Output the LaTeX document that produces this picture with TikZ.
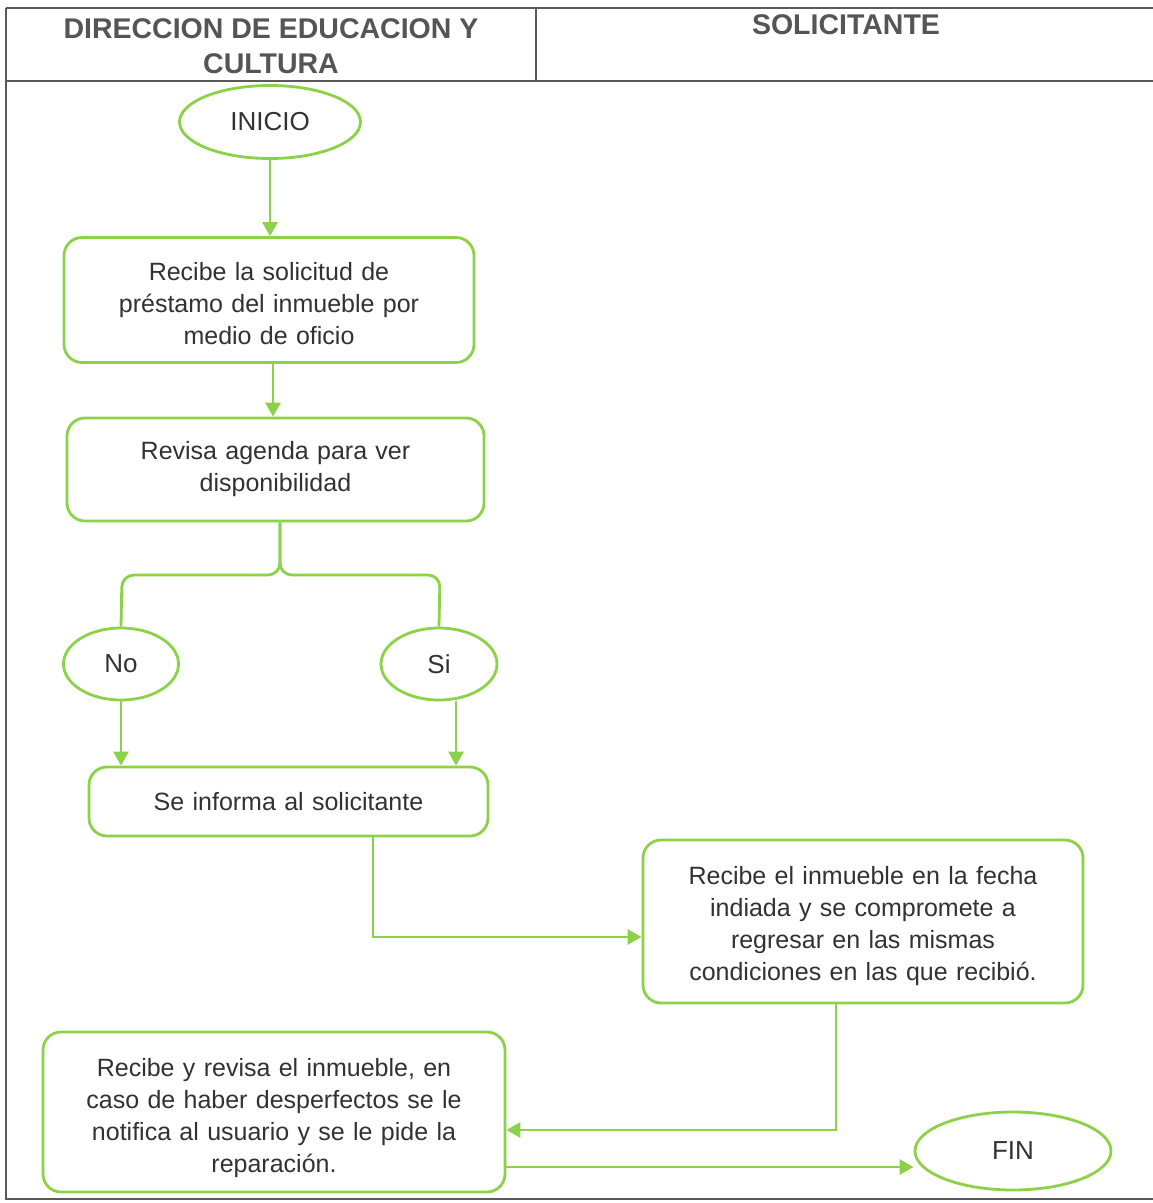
\documentclass[tikz,border=0pt]{standalone}
\usepackage{fontspec}
\setmainfont{Liberation Sans}
\usetikzlibrary{arrows.meta,shapes.geometric}
\definecolor{flowgreen}{RGB}{140,210,72}
\definecolor{txtgray}{RGB}{50,50,50}
\definecolor{headgray}{RGB}{85,85,85}
\definecolor{rulegray}{RGB}{90,90,90}
% invisible strut that lowers a centred text block a little
\newcommand{\toplift}[1]{\rule{0pt}{#1}}
\begin{document}
\begin{tikzpicture}[x=1pt,y=-1pt,
  flow/.style={draw=flowgreen,line width=2.8pt},
  arr/.style={flow,-{Triangle[length=14pt,width=15pt]}},
  stepbox/.style={flow,rounded corners=18pt,align=center,text=txtgray,
     font=\fontsize{25}{32}\selectfont,inner sep=0pt},
  term/.style={flow,ellipse,inner sep=0pt,text=txtgray,
     font=\fontsize{26}{30}\selectfont},
  head/.style={text=headgray,font=\fontsize{28.5}{35}\selectfont\bfseries,align=center}]
\useasboundingbox (0,0) rectangle (1153,1203);
\fill[white] (0,0) rectangle (1153,1203);

% swimlane table
\draw[rulegray,line width=1.6pt] (6,8) -- (1153,8);
\draw[rulegray,line width=1.6pt] (6,81) -- (1153,81);
\draw[rulegray,line width=1.6pt] (6,8) -- (6,1199) -- (1153,1199);
\draw[rulegray,line width=1.4pt] (536,8) -- (536,81);
\node[head] (h1) at (271,46) {DIRECCION DE EDUCACION Y\\CULTURA};
\node[head,anchor=north] (h2) at (846,11) {SOLICITANTE};

% process steps
\node[term,minimum width=181pt,minimum height=73pt] (inicio) at (270,122) {INICIO};
\node[stepbox,minimum width=410pt,minimum height=125pt,text width=400pt] (b1) at (269,300) {\toplift{25pt}Recibe la solicitud de\\préstamo del inmueble por\\medio de oficio};
\node[stepbox,minimum width=417pt,minimum height=103pt,text width=400pt] (b2) at (275.5,469.5) {Revisa agenda para ver\\disponibilidad};
\node[term,minimum width=115pt,minimum height=72pt] (no) at (121,664) {No};
\node[term,minimum width=116pt,minimum height=72pt] (si) at (439,664) {Si};
\node[stepbox,minimum width=399pt,minimum height=69pt,text width=390pt] (b3) at (288.5,801.5) {Se informa al solicitante};
\node[stepbox,minimum width=440pt,minimum height=163pt,text width=430pt] (b4) at (863,921.5) {\toplift{27pt}Recibe el inmueble en la fecha\\indiada y se compromete a\\regresar en las mismas\\condiciones en las que recibió.};
\node[stepbox,minimum width=462pt,minimum height=160pt,text width=450pt] (b5) at (274,1112) {\toplift{31pt}Recibe y revisa el inmueble, en\\caso de haber desperfectos se le\\notifica al usuario y se le pide la\\reparación.};
\node[term,minimum width=196pt,minimum height=78pt] (fin) at (1013,1151) {FIN};

% helper points on the connectors
\coordinate (c1) at (273,0);
\coordinate (c2) at (280,0);
\coordinate (cno) at (121,0);
\coordinate (csi) at (456,0);
\coordinate (c3) at (373,0);
\coordinate (c4) at (836,0);
\coordinate (r0) at (0,937);
\coordinate (r1) at (0,1130);
\coordinate (r2) at (0,1167);

% connectors
\draw[arr] (inicio.south) -- (b1.north -| inicio.south);
\draw[arr] (b1.south -| c1) -- (b2.north -| c1);
\draw[flow,rounded corners=12pt] (b2.south -| c2) -- (280,575) -- (122,575) -- (no.north -| cno);
\draw[flow,rounded corners=12pt] (b2.south -| c2) -- (280,575) -- (440,575) -- (si.north);
\draw[arr] (no.south) -- (b3.north -| no.south);
\draw[arr] (si.south -| csi) -- (b3.north -| csi);
\draw[arr] (b3.south -| c3) |- (b4.west |- r0);
\draw[arr] (b4.south -| c4) |- (b5.east |- r1);
\draw[arr] (b5.east |- r2) -- (fin.west |- r2);
\end{tikzpicture}
\end{document}
